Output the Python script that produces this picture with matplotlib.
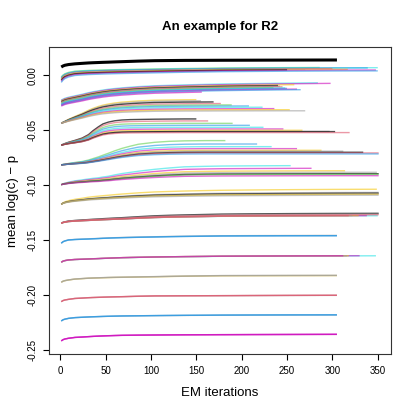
import numpy as np
import matplotlib
matplotlib.use("Agg")
from matplotlib import pyplot as plt

plt.rcParams["font.family"] = ["Liberation Sans", "DejaVu Sans"]
plt.rcParams["axes.unicode_minus"] = False

# R 4.x default palette
pal = {"k": "black", "r": "#DF536B", "g": "#61D04F", "b": "#2297E6",
       "c": "#28E2E5", "m": "#CD0BBC", "y": "#F5C710", "a": "#9E9E9E"}

knots = [1, 3, 5, 9, 16, 24, 31, 36, 42, 47, 53, 60, 68, 77, 86, 104, 120, 137, 160, 178, 210, 250, 305, 352]

# each group: fraction of the rise done at each knot, then per-line start, plateau, last iteration, colour
g1_frac = [0, .15, .25, .35, .45, .52, .58, .61, .64, .665, .69, .725, .76, .80, .84, .90, .92, .94, .95, .96, .97, .985, 1, 1]
g1_start = [0.0075]
g1_plat = [0.0139]
g1_end = [305]
g1_col = ["k"]

g2_frac = [0, .2, .33, .47, .6, .645, .68, .695, .71, .725, .74, .755, .77, .785, .8, .83, .855, .88, .905, .93, .95, .97, .99, 1]
g2_start = [-0.0015, -0.002, -0.0025, -0.003, -0.0035, -0.004, -0.0045, -0.0055, -0.0065]
g2_plat = [0.0072, 0.0069, 0.0067, 0.0062, 0.0058, 0.0055, 0.0052, 0.0048, 0.0040]
g2_end = [286, 350, 339, 300, 270, 317, 250, 348, 350]
g2_col = ["g", "c", "b", "r", "a", "y", "k", "m", "b"]

g3_frac = [0, .05, .1, .16, .24, .33, .42, .475, .53, .575, .62, .66, .7, .735, .77, .82, .845, .87, .9, .92, .945, .97, 1, 1]
g3_start = [-0.0225, -0.023, -0.0235, -0.024, -0.0245, -0.025, -0.0255, -0.026, -0.0265, -0.027, -0.0275, -0.028]
g3_plat = [-0.0067, -0.0073, -0.0082, -0.0088, -0.0094, -0.0100, -0.0106, -0.0110, -0.0115, -0.0122, -0.0128, -0.0138]
g3_end = [284, 298, 258, 240, 242, 245, 235, 248, 250, 261, 265, 156]
g3_col = ["c", "m", "y", "k", "a", "r", "g", "c", "b", "m", "b", "m"]

g4_frac = [0, .04, .08, .16, .28, .41, .54, .62, .7, .755, .8, .845, .88, .905, .93, .96, .97, .98, .985, .99, .995, 1, 1, 1]
g4_start = [-0.0436] * 10
g4_plat = [-0.0218, -0.0228, -0.0240, -0.0255, -0.0268, -0.0278, -0.0290, -0.0303, -0.0313, -0.0323]
g4_end = [150, 155, 169, 177, 189, 208, 223, 236, 253, 270]
g4_col = ["y", "a", "k", "r", "g", "b", "c", "m", "y", "a"]

g5_frac = [0, .03, .06, .11, .18, .27, .40, .55, .70, .81, .88, .93, .96, .975, .98, .99, .995, 1, 1, 1, 1, 1, 1, 1]
g5_start = [-0.0635] * 10
g5_plat = [-0.0397, -0.0415, -0.0437, -0.0455, -0.0473, -0.0488, -0.0500, -0.0510, -0.0512, -0.0521]
g5_end = [150, 163, 190, 209, 224, 246, 267, 297, 303, 319]
g5_col = ["k", "r", "g", "b", "c", "m", "y", "a", "k", "r"]

g6_frac = [0, .02, .03, .06, .1, .14, .2, .26, .33, .4, .48, .58, .68, .77, .85, .93, .97, .99, 1, 1, 1, 1, 1, 1]
g6_start = [-0.0815] * 9
g6_plat = [-0.0594, -0.0625, -0.0649, -0.0667, -0.0682, -0.0690, -0.0700, -0.0706, -0.0715]
g6_end = [182, 217, 233, 261, 288, 312, 334, 351, 351]
g6_col = ["g", "b", "c", "m", "y", "a", "k", "r", "b"]

g7_frac = [0, .05, .08, .13, .2, .25, .3, .33, .36, .4, .44, .51, .58, .64, .7, .8, .87, .93, .955, .97, .98, .99, 1, 1]
g7_start = [-0.0995] * 7
g7_plat = [-0.0820, -0.0845, -0.0868, -0.0882, -0.0895, -0.0900, -0.0913]
g7_end = [254, 277, 314, 349, 351, 351, 351]
g7_col = ["c", "m", "y", "a", "k", "g", "m"]

g8_frac = [0, .1, .16, .24, .33, .4, .47, .505, .54, .57, .6, .64, .68, .72, .76, .82, .85, .88, .91, .93, .95, .97, .99, 1]
g8_start = [-0.1173] * 6
g8_plat = [-0.1036, -0.1065, -0.1072, -0.1078, -0.1082, -0.1090]
g8_end = [349, 351, 351, 351, 351, 351]
g8_col = ["y", "a", "k", "a", "y", "a"]

g9_frac = [0, .09, .14, .22, .28, .33, .37, .4, .43, .46, .49, .525, .56, .61, .66, .75, .8, .84, .885, .92, .945, .97, .99, 1]
g9_start = [-0.1345] * 8
g9_plat = [-0.1255, -0.1262, -0.1277, -0.1276, -0.1276, -0.1275, -0.1268, -0.1276]
g9_end = [351, 351, 350, 338, 329, 322, 351, 318]
g9_col = ["k", "a", "c", "m", "y", "a", "r", "r"]

g10_frac = [0, .2, .3, .43, .49, .53, .56, .59, .62, .65, .68, .71, .74, .765, .79, .83, .87, .9, .935, .96, .975, .99, 1, 1]
g10_start = [-0.1527] * 3
g10_plat = [-0.1456, -0.1459, -0.1458]
g10_end = [305, 305, 305]
g10_col = ["a", "b", "b"]

g11_frac = [0, .17, .25, .35, .42, .46, .5, .53, .56, .59, .62, .66, .7, .725, .75, .8, .83, .86, .89, .92, .94, .96, .98, 1]
g11_start = [-0.170] * 5
g11_plat = [-0.1641, -0.1640, -0.1640, -0.1640, -0.1640]
g11_end = [348, 330, 318, 316, 312]
g11_col = ["c", "m", "y", "a", "m"]

g12_frac = [0, .16, .24, .34, .47, .54, .6, .625, .65, .675, .7, .72, .74, .76, .78, .82, .86, .9, .94, .97, .98, .99, 1, 1]
g12_start = [-0.1882] * 3
g12_plat = [-0.1821, -0.1819, -0.1820]
g12_end = [305, 305, 305]
g12_col = ["y", "a", "a"]

g13_frac = [0, .17, .26, .36, .5, .56, .62, .65, .68, .705, .73, .755, .78, .815, .85, .9, .91, .92, .93, .94, .96, .98, 1, 1]
g13_start = [-0.2058] * 3
g13_plat = [-0.2001, -0.2000, -0.2000]
g13_end = [305, 305, 305]
g13_col = ["a", "r", "r"]

g14_frac = [0, .2, .3, .43, .55, .61, .66, .69, .72, .745, .77, .795, .82, .835, .85, .88, .9, .92, .94, .96, .975, .99, 1, 1]
g14_start = [-0.2234] * 3
g14_plat = [-0.2179, -0.2178, -0.2178]
g14_end = [305, 305, 305]
g14_col = ["a", "b", "b"]

g15_frac = [0, .19, .29, .4, .53, .59, .65, .69, .73, .76, .79, .82, .85, .865, .88, .9, .915, .93, .94, .95, .965, .98, 1, 1]
g15_start = [-0.2415] * 3
g15_plat = [-0.2356, -0.2355, -0.2355]
g15_end = [305, 305, 305]
g15_col = ["m", "m", "m"]

groups = [
    (g1_frac, g1_start, g1_plat, g1_end, g1_col),
    (g2_frac, g2_start, g2_plat, g2_end, g2_col),
    (g3_frac, g3_start, g3_plat, g3_end, g3_col),
    (g4_frac, g4_start, g4_plat, g4_end, g4_col),
    (g5_frac, g5_start, g5_plat, g5_end, g5_col),
    (g6_frac, g6_start, g6_plat, g6_end, g6_col),
    (g7_frac, g7_start, g7_plat, g7_end, g7_col),
    (g8_frac, g8_start, g8_plat, g8_end, g8_col),
    (g9_frac, g9_start, g9_plat, g9_end, g9_col),
    (g10_frac, g10_start, g10_plat, g10_end, g10_col),
    (g11_frac, g11_start, g11_plat, g11_end, g11_col),
    (g12_frac, g12_start, g12_plat, g12_end, g12_col),
    (g13_frac, g13_start, g13_plat, g13_end, g13_col),
    (g14_frac, g14_start, g14_plat, g14_end, g14_col),
    (g15_frac, g15_start, g15_plat, g15_end, g15_col),
]

x_ticks = [0, 50, 100, 150, 200, 250, 300, 350]
y_ticks = [-0.25, -0.20, -0.15, -0.10, -0.05, 0.00]


def trace(frac, s, p, e):
    it = [k for k in knots if k < e] + [e]
    f = np.interp(it, knots, frac)
    return it, s + (p - s) * f


fig = plt.figure(figsize=(4.15, 4.15), dpi=100)
ax = fig.add_axes([49 / 415, 61 / 415, 342 / 415, 307 / 415])

for gi, (frac, starts, plats, ends, cols) in enumerate(groups):
    for s, p, e, c in zip(starts, plats, ends, cols):
        it, y = trace(frac, s, p, e)
        if gi == 0:
            ax.plot(it, y, color=pal[c], lw=2.2, solid_capstyle="butt")
        else:
            ax.plot(it, y, color=pal[c], lw=1.0, alpha=0.7 if c == "k" else 0.6,
                    solid_capstyle="butt")

ax.set_xlim(-12.5, 364.6)
ax.set_ylim(-0.2534, 0.0257)
ax.set_xticks(x_ticks)
ax.set_xticklabels([str(t) for t in x_ticks])
ax.set_yticks(y_ticks)
ax.set_yticklabels(["%.2f" % t for t in y_ticks], rotation=90, va="center")
ax.tick_params(direction="out", length=4, width=0.8, labelsize=7, pad=4.5)

for sp in ax.spines.values():
    sp.set_linewidth(0.8)
    sp.set_color("#333333")

ax.set_title("An example for R2", fontsize=9.5, fontweight="bold", pad=12)
ax.set_xlabel("EM iterations", fontsize=9.5, labelpad=8)
ax.set_ylabel("mean log(c) \u2212 p", fontsize=9.5, labelpad=6)

fig.savefig("out.png", dpi=100)
